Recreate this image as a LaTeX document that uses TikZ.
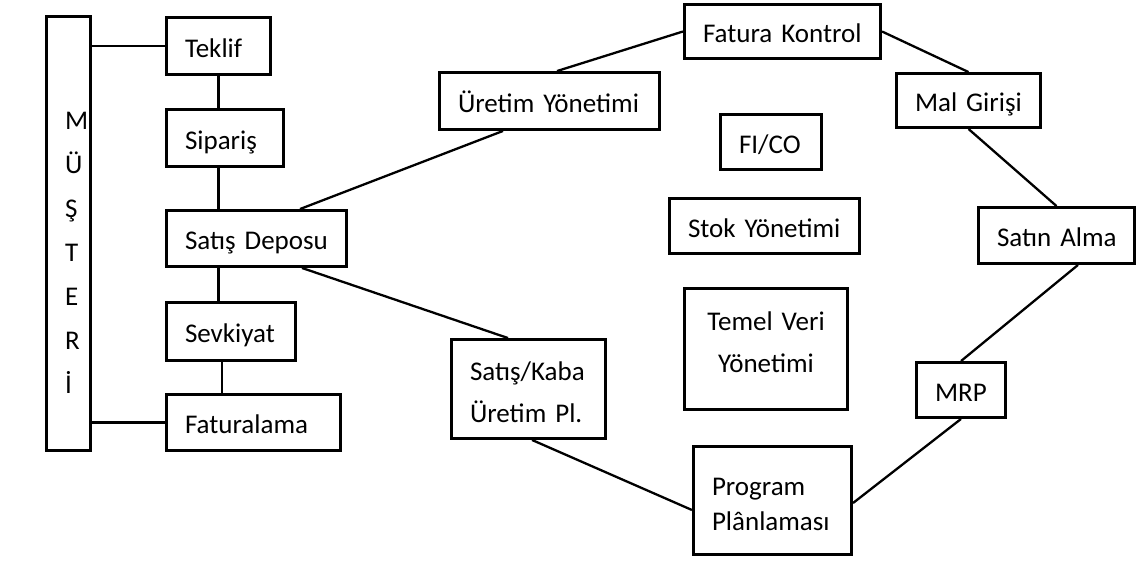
\documentclass[tikz,border=0pt]{standalone}
\usepackage{fontspec}
\setmainfont{Carlito}
\usetikzlibrary{calc}
\hyphenpenalty=10000
\exhyphenpenalty=10000
\begin{document}
\begin{tikzpicture}[x=1pt,y=-1pt,
  box/.style={draw, line width=2.9pt, rectangle, inner xsep=18.6pt, inner ysep=0pt,
    align=left, font=\fontsize{27}{33}\selectfont},
  one/.style={text height=23pt, text depth=1pt},
  link/.style={line width=2.3pt}]
\useasboundingbox (0,0) rectangle (1138,563);

% customer column
\node[box, text width=7pt, minimum height=434pt, text height=20pt, text depth=229pt,
  font=\fontsize{27}{44}\selectfont] (musteri) at (68.5,233.5)
  {M\\Ü\\Ş\\T\\E\\R\\İ};

% sales chain
\node[box, one, text width=67pt,  minimum height=57pt] (teklif)  at (218.5,46)    {Teklif};
\node[box, one, text width=80pt,  minimum height=57pt] (siparis) at (225,138)     {Sipariş};
\node[box, one, text width=143pt, minimum height=56pt] (satis)   at (256.5,238.5) {Satış~Deposu};
\node[box, one, text width=92pt,  minimum height=58pt] (sevk)    at (231,331.5)   {Sevkiyat};
\node[box, one, text width=137pt, minimum height=56pt] (fatur)   at (253.5,422.5) {Faturalama};

% planning / procurement ring
\node[box, one, text width=183pt, minimum height=57pt] (uretim)  at (549.5,101)   {Üretim~Yönetimi};
\node[box, one, text width=159pt, minimum height=54pt] (fatkon)  at (782.5,31.5)  {Fatura~Kontrol};
\node[box, one, text width=107pt, minimum height=54pt] (mal)     at (968.5,100.5) {Mal~Girişi};
\node[box, one, text width=119pt, minimum height=56pt] (satin)   at (1056.5,235.5){Satın~Alma};
\node[box, one, text width=52pt,  minimum height=55pt] (mrp)     at (961,390)     {MRP};
\node[box, text width=121pt, minimum height=108pt, text height=20pt, text depth=31pt,
  font=\fontsize{27}{35}\selectfont] (program) at (772.5,500.5) {Program\\Plânlaması};
\node[box, text width=117pt, minimum height=99pt, text height=20pt, text depth=38pt,
  font=\fontsize{27}{42}\selectfont] (kaba) at (528.5,389) {Satış/Kaba\\Üretim~Pl.};

% stand-alone modules
\node[box, one, text width=64pt,  minimum height=55pt] (fico) at (771,142)   {FI/CO};
\node[box, one, text width=153pt, minimum height=55pt] (stok) at (764.5,226) {Stok~Yönetimi};
\node[box, align=center, text width=126pt, minimum height=121pt, text height=20pt, text depth=58pt,
  font=\fontsize{27}{42}\selectfont] (temel) at (766,349) {Temel~Veri\\Yönetimi};

% links of the customer column
\draw[link] (teklif.west -| musteri.east) -- (teklif.west);
\draw[link] (fatur.west -| musteri.east) -- (fatur.west);
\draw[link] (teklif.south) -- (teklif.south |- siparis.north);
\draw[link] (siparis.south -| teklif.south) -- (satis.north -| teklif.south);
\draw[link] (satis.south -| teklif.south) -- (sevk.north -| teklif.south);
\draw[link] ([xshift=-9pt]sevk.south) -- ($(sevk.south |- fatur.north)+(-9,0)$);

% ring links
\draw[link] (fatkon.west) -- ([xshift=7.5pt]uretim.north);
\draw[link] ([xshift=-46.5pt]uretim.south) -- ([xshift=43.5pt]satis.north);
\draw[link] ([xshift=45.5pt]satis.south) -- ([xshift=-20.5pt]kaba.north);
\draw[link] ([xshift=3.5pt]kaba.south) -- ([yshift=-9.5pt]program.west);
\draw[link] ([yshift=-2.5pt]program.east) -- (mrp.south);
\draw[link] (mrp.north) -- ([xshift=21.5pt]satin.south);
\draw[link] (satin.north) -- (mal.south);
\draw[link] (mal.north) -- (fatkon.east);
\end{tikzpicture}
\end{document}
